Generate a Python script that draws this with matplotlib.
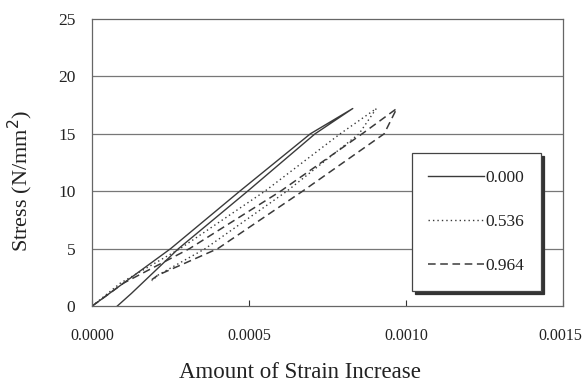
import matplotlib
matplotlib.use("Agg")
import matplotlib.pyplot as plt
from matplotlib.transforms import ScaledTranslation

plt.rcParams['font.family'] = ['Liberation Serif', 'DejaVu Serif']

# Loading / unloading loops for each series (strain, stress in N/mm^2)
labels = ["0.000", "0.536", "0.964"]

strain_000 = [0.0, 0.00010, 0.00025, 0.00047, 0.000695, 0.00083,
              0.00071, 0.000495, 0.000275, 0.000125, 0.00008]
stress_000 = [0.0, 2.0, 5.0, 10.0, 15.0, 17.2,
              15.0, 10.0, 5.0, 1.1, 0.0]

strain_536 = [0.0, 0.00009, 0.00028, 0.00055, 0.00079, 0.000905,
              0.00085, 0.00062, 0.00036, 0.00021, 0.00019]
stress_536 = [0.0, 2.0, 5.0, 10.0, 15.0, 17.2,
              15.0, 10.0, 5.0, 2.7, 2.2]

strain_964 = [0.0, 0.00010, 0.00031, 0.00060, 0.00086, 0.00097,
              0.00093, 0.00067, 0.00040, 0.00021, 0.00019]
stress_964 = [0.0, 2.0, 5.0, 10.0, 15.0, 17.2,
              15.0, 10.0, 5.0, 2.7, 2.3]

x_ticks = [0.0, 0.0005, 0.0010, 0.0015]
x_ticklabels = ["0.0000", "0.0005", "0.0010", "0.0015"]
y_ticks = [0, 5, 10, 15, 20, 25]

W, H = 583, 386
fig = plt.figure(figsize=(W / 100, H / 100), dpi=100)
ax = fig.add_axes([0.158, 0.207, 0.808, 0.744])

line_col = "#3a3a3a"
ax.plot(strain_000, stress_000, color=line_col, lw=1.0, ls="-", label=labels[0])
ax.plot(strain_536, stress_536, color=line_col, lw=1.0, ls=(0, (1, 2.2)), label=labels[1])
ax.plot(strain_964, stress_964, color=line_col, lw=1.1, ls=(0, (5, 3)), label=labels[2])

ax.set_xlim(0, 0.0015)
ax.set_ylim(0, 25)
ax.set_xticks(x_ticks)
ax.set_xticklabels(x_ticklabels)
ax.set_yticks(y_ticks)

for y in y_ticks[1:-1]:
    ax.axhline(y, color="#777777", lw=0.9, zorder=0)

for s in ax.spines.values():
    s.set_color("#666666")
    s.set_linewidth(0.9)

ax.tick_params(axis="x", direction="in", length=4, pad=16, labelsize=11.5,
               colors="#333333", labelcolor="#222222")
ax.tick_params(axis="y", direction="out", length=0, pad=12, labelsize=12.5,
               labelcolor="#222222")

# keep the last strain label inside the canvas edge
last = ax.get_xticklabels()[-1]
last.set_transform(last.get_transform() + ScaledTranslation(-3 / 100, 0, fig.dpi_scale_trans))

# Axis titles placed by their centres
fig.text(300 / W, 1 - 372 / H, "Amount of Strain Increase", fontsize=16.5,
         color="#222222", ha="center", va="center")
fig.text(20 / W, 1 - 181 / H, "Stress (N/mm$^2$)", fontsize=16,
         color="#222222", ha="center", va="center", rotation=90)

leg = ax.legend(loc="upper left", bbox_to_anchor=(0.679, 0.533),
                frameon=True, fancybox=False, borderpad=0.95,
                handlelength=3.2, handletextpad=0.1, labelspacing=1.62,
                fontsize=12.5, borderaxespad=0,
                shadow={"color": "#333333", "alpha": 1.0})
leg.get_frame().set_edgecolor("#444444")
leg.get_frame().set_linewidth(0.9)
for t in leg.get_texts():
    t.set_color("#222222")

fig.savefig("out.png", dpi=100)
